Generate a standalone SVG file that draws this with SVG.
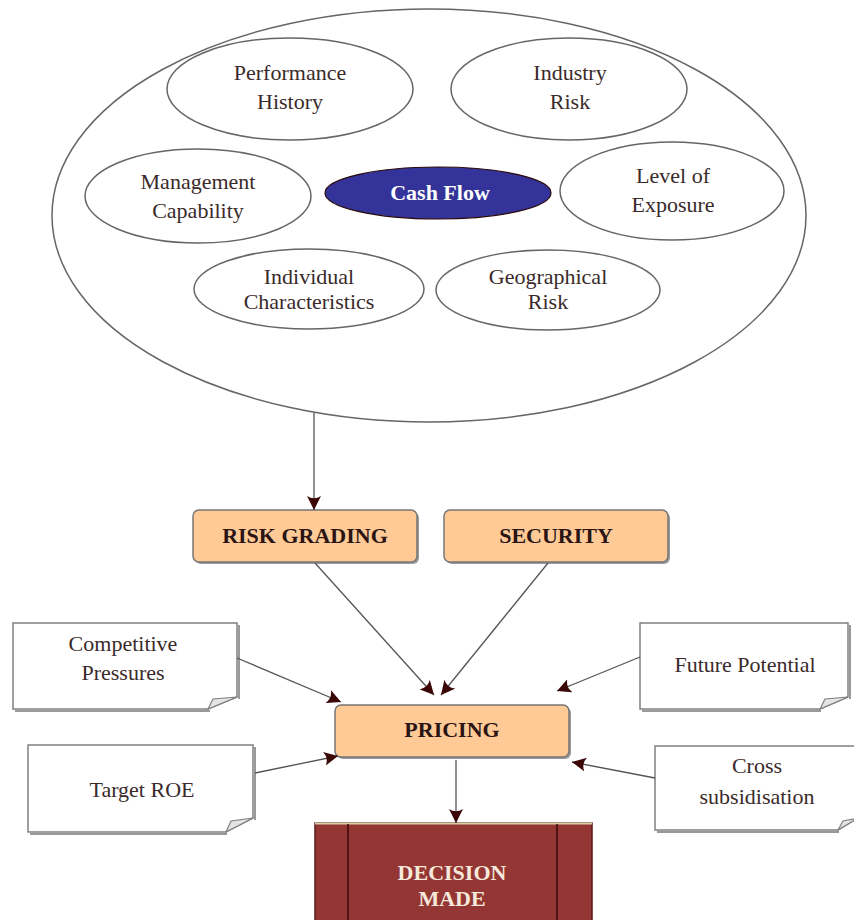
<svg xmlns="http://www.w3.org/2000/svg" width="854" height="920" viewBox="0 0 854 920">
<defs>
<style>
.t{font-family:"Liberation Serif","Times New Roman",serif;font-size:22px;fill:#3a2a2a;text-anchor:middle}
.b{font-family:"Liberation Serif","Times New Roman",serif;font-size:22px;font-weight:bold;fill:#2a1414;text-anchor:middle}
.el{fill:#fff;stroke:#666;stroke-width:1.5}
.box{fill:#FFCA95;stroke:#777;stroke-width:1.5}
.sh{fill:#9a9a9a}
.note{fill:#fff;stroke:#808080;stroke-width:1.5}
.nsh{fill:none;stroke:#999;stroke-width:2}
.fold{fill:#e4e4e4;stroke:#808080;stroke-width:1.2}
.c{stroke:#555;stroke-width:1.3;fill:none;marker-end:url(#ah)}
</style>
<marker id="ah" viewBox="0 0 12 12" refX="12" refY="6" markerWidth="14" markerHeight="14" markerUnits="userSpaceOnUse" orient="auto">
<path d="M0,0 Q4,6 0,12 L12,6 Z" fill="#3a0606"/>
</marker>
</defs>
<rect width="854" height="920" fill="#fff"/>

<g id="factors">
<ellipse cx="429" cy="215.5" rx="377" ry="206.5" class="el"/>
</g>
<g id="performance-history">
<ellipse cx="290" cy="89" rx="123" ry="51" class="el"/>
<text class="t" x="290" y="80">Performance</text>
<text class="t" x="290" y="109">History</text>
</g>
<g id="industry-risk">
<ellipse cx="569" cy="89" rx="118" ry="51" class="el"/>
<text class="t" x="570" y="80">Industry</text>
<text class="t" x="570" y="109">Risk</text>
</g>
<g id="management-capability">
<ellipse cx="198" cy="196" rx="113" ry="47" class="el"/>
<text class="t" x="198" y="189">Management</text>
<text class="t" x="198" y="218">Capability</text>
</g>
<g id="cash-flow">
<ellipse cx="438" cy="193" rx="113" ry="26" fill="#333399" stroke="#2a0a0a" stroke-width="1.2"/>
<text class="b" x="440" y="200" style="fill:#fff">Cash Flow</text>
</g>
<g id="level-of-exposure">
<ellipse cx="672" cy="191" rx="112" ry="49" class="el"/>
<text class="t" x="673" y="183">Level of</text>
<text class="t" x="673" y="212">Exposure</text>
</g>
<g id="individual-characteristics">
<ellipse cx="309" cy="289" rx="115" ry="40" class="el"/>
<text class="t" x="309" y="284">Individual</text>
<text class="t" x="309" y="309">Characteristics</text>
</g>
<g id="geographical-risk">
<ellipse cx="548" cy="290" rx="112" ry="40" class="el"/>
<text class="t" x="548" y="284">Geographical</text>
<text class="t" x="548" y="309">Risk</text>
</g>

<g id="risk-grading">
<rect x="195" y="512" width="224" height="52" rx="6" class="sh"/>
<rect x="193" y="510" width="224" height="52" rx="6" class="box"/>
<text class="b" x="305" y="543">RISK GRADING</text>
</g>
<g id="security">
<rect x="446" y="512" width="224" height="52" rx="6" class="sh"/>
<rect x="444" y="510" width="224" height="52" rx="6" class="box"/>
<text class="b" x="556" y="543">SECURITY</text>
</g>
<g id="pricing">
<rect x="337" y="707" width="234" height="52" rx="6" class="sh"/>
<rect x="335" y="705" width="234" height="52" rx="6" class="box"/>
<text class="b" x="452" y="737">PRICING</text>
</g>

<g id="competitive-pressures">
<path d="M239,625 V699 M210,711 H15" class="nsh"/>
<path d="M13,623 H237 V697 L208,709 H13 Z" class="note"/>
<path d="M237,697 L213,699 L208,709 Z" class="fold"/>
<text class="t" x="123" y="651">Competitive</text>
<text class="t" x="123" y="680">Pressures</text>
</g>
<g id="future-potential">
<path d="M850,625 V699 M821,711 H642" class="nsh"/>
<path d="M640,623 H848 V697 L820,709 H640 Z" class="note"/>
<path d="M848,697 L825,699 L820,709 Z" class="fold"/>
<text class="t" x="745" y="672">Future Potential</text>
</g>
<g id="target-roe">
<path d="M255,747 V820 M227,834 H30" class="nsh"/>
<path d="M28,745 H253 V818 L226,832 H28 Z" class="note"/>
<path d="M253,818 L231,821 L226,832 Z" class="fold"/>
<text class="t" x="142" y="797">Target ROE</text>
</g>
<g id="cross-subsidisation">
<path d="M839,832 H657" class="nsh"/>
<path d="M655,746 H858 V818 L838,830 H655 Z" class="note"/>
<path d="M858,818 L843,821 L838,830 Z" class="fold"/>
<text class="t" x="757" y="773">Cross</text>
<text class="t" x="757" y="804">subsidisation</text>
</g>

<g id="decision-made">
<rect x="315" y="823" width="277" height="110" fill="#943634" stroke="#5a1a1a" stroke-width="1.5"/>
<line x1="315" y1="823.5" x2="592" y2="823.5" stroke="#d8cfa8" stroke-width="2"/>
<line x1="348" y1="824" x2="348" y2="920" stroke="#3a0a0a" stroke-width="1.5"/>
<line x1="557" y1="824" x2="557" y2="920" stroke="#3a0a0a" stroke-width="1.5"/>
<text class="b" x="452" y="880" style="fill:#f6e9dc">DECISION</text>
<text class="b" x="452" y="906" style="fill:#f6e9dc">MADE</text>
</g>

<g id="connectors">
<path class="c" d="M314,413 V510"/>
<path class="c" d="M315,563 L434,695"/>
<path class="c" d="M548,563 L441,695"/>
<path class="c" d="M237,658 L341,702"/>
<path class="c" d="M640,657 L557,691"/>
<path class="c" d="M255,773 L338,756"/>
<path class="c" d="M655,778 L572,762"/>
<path class="c" d="M456,760 V823"/>
</g>
</svg>
